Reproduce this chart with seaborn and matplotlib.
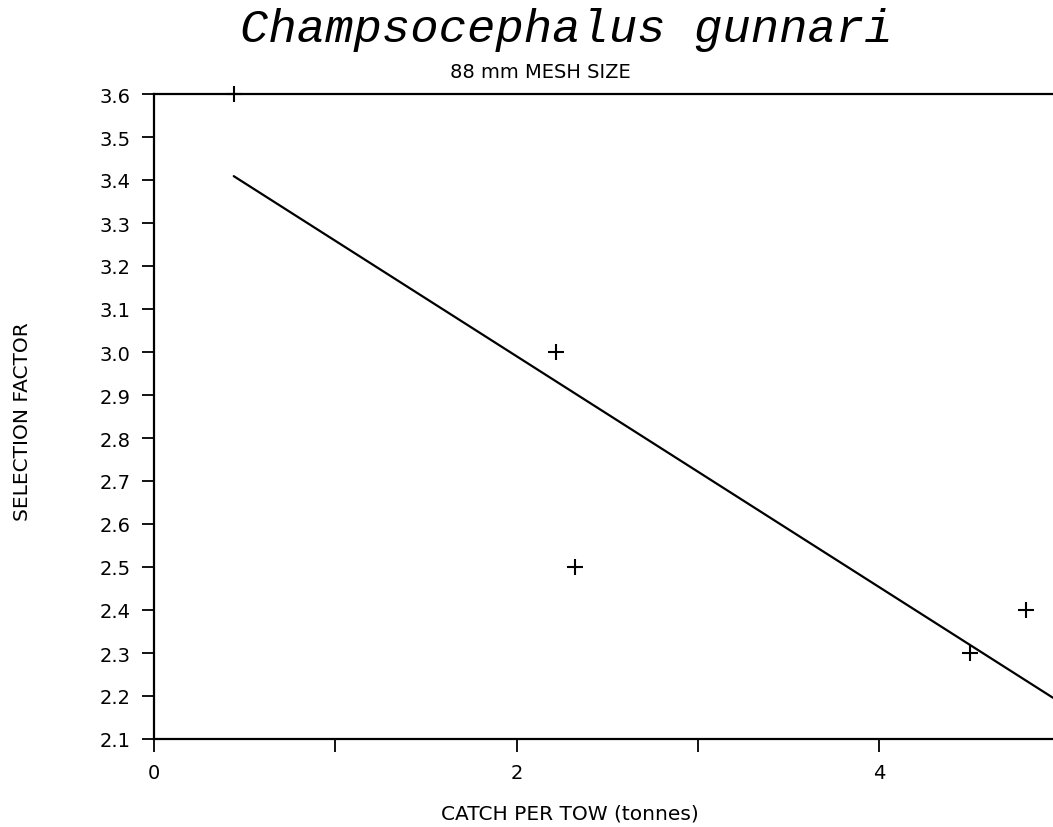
import numpy as np
import pandas as pd
import matplotlib
matplotlib.use("Agg")
import matplotlib.pyplot as plt
from matplotlib.ticker import MultipleLocator, FixedLocator
import seaborn as sns

# values
catch = [0.44, 2.22, 2.32, 4.50, 4.81]
selection = [3.6, 3.0, 2.5, 2.3, 2.4]
x_major = [0, 2, 4]
x_minor = [1, 3]
x_max = 4.96
y_min, y_max = 2.1, 3.6

sns.set_style("ticks")
plt.rcParams["font.family"] = ["DejaVu Sans"]
plt.rcParams["text.color"] = "black"
plt.rcParams["xtick.labelcolor"] = "black"
plt.rcParams["ytick.labelcolor"] = "black"

df = pd.DataFrame({"catch": catch, "selection": selection})

fig = plt.figure(figsize=(10.53, 8.28), dpi=100)
ax = fig.add_axes([154 / 1053, 1 - 740 / 828, 1 - 154 / 1053, (740 - 95) / 828])

# least squares line, drawn from the first point to the right edge
slope, intercept = np.polyfit(df["catch"], df["selection"], 1)
fit_x = np.array([df["catch"].min(), x_max])
sns.lineplot(x=fit_x, y=intercept + slope * fit_x, ax=ax, color="black", lw=1.6)

sns.scatterplot(data=df, x="catch", y="selection", ax=ax, marker="+",
                s=140, color="black", linewidth=1.5, clip_on=False, zorder=5)

ax.set_xlim(0, x_max)
ax.set_ylim(y_min, y_max)
ax.xaxis.set_major_locator(FixedLocator(x_major))
ax.xaxis.set_minor_locator(FixedLocator(x_minor))
ax.yaxis.set_major_locator(MultipleLocator(0.1))
ax.yaxis.set_major_formatter(matplotlib.ticker.FormatStrFormatter("%.1f"))
ax.tick_params(axis="both", which="both", direction="out", length=9, width=1.3,
               color="black", labelcolor="black", labelsize=14, pad=8)
ax.set_xlabel("")
ax.set_ylabel("")
for side in ["left", "bottom", "top"]:
    ax.spines[side].set_linewidth(1.6)
    ax.spines[side].set_color("black")
ax.spines["right"].set_visible(False)

fig.text(566 / 1053, 1 - 42 / 828, "Champsocephalus gunnari", ha="center",
         va="baseline", fontsize=34, style="italic", family="Liberation Mono",
         color="black")
fig.text(540 / 1053, 1 - 78 / 828, "88 mm MESH SIZE", ha="center",
         va="baseline", fontsize=14, color="black")
fig.text(570 / 1053, 1 - 814 / 828, "CATCH PER TOW (tonnes)", ha="center",
         va="center", fontsize=14.5, color="black")
fig.text(23 / 1053, 1 - 422 / 828, "SELECTION FACTOR", ha="center",
         va="center", rotation=90, fontsize=14.5, color="black")

fig.savefig("out.png", dpi=100)
